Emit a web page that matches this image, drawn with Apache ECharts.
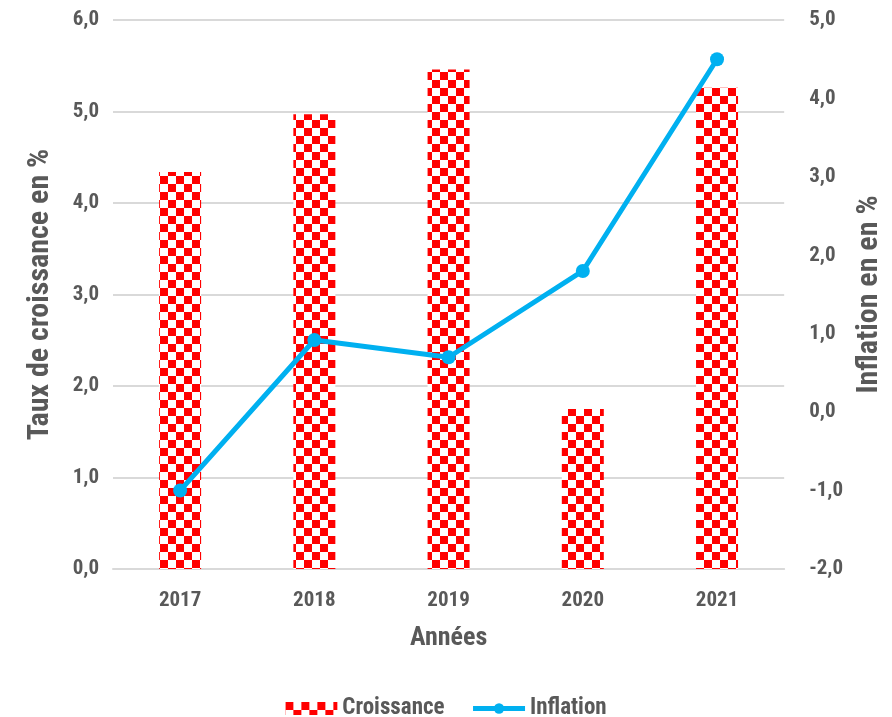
<!DOCTYPE html>
<html>
<head>
<meta charset="utf-8">
<script src="https://cdn.jsdelivr.net/npm/echarts@6/dist/echarts.min.js"></script>
<style>
html,body{margin:0;padding:0;background:#fff;overflow:hidden;}
#c{width:892px;height:717px;}
</style>
</head>
<body>
<div id="c"></div>
<script>
const categories = ['2017', '2018', '2019', '2020', '2021'];
const croissance = [4.34, 4.97, 5.46, 1.75, 5.26];
const inflation = [-1.0, 0.92, 0.70, 1.80, 4.50];
const leftTicks = {min: 0, max: 6, interval: 1};
const rightTicks = {min: -2, max: 5, interval: 1};

const FONT = "'Liberation Sans Narrow', 'Arial Narrow', 'Roboto Condensed', 'Liberation Sans', Arial, sans-serif";
const GREY = '#595959';

function checker() {
  const c = document.createElement('canvas');
  c.width = 16; c.height = 16;
  const g = c.getContext('2d');
  g.fillStyle = '#ffffff';
  g.fillRect(0, 0, 16, 16);
  g.fillStyle = '#ff0000';
  g.fillRect(0, 0, 8, 8);
  g.fillRect(8, 8, 8, 8);
  return c;
}
const pat = {image: checker(), repeat: 'repeat'};

const chart = echarts.init(document.getElementById('c'), null, {renderer: 'canvas'});
const fmt = v => v.toFixed(1).replace('.', ',');
chart.setOption({
  animation: false,
  textStyle: {fontFamily: FONT},
  grid: {left: 113, right: 92, top: 20, bottom: 148, containLabel: false},
  legend: {
    top: 692,
    left: 'center',
    itemGap: 26,
    itemWidth: 52,
    itemHeight: 13,
    textStyle: {fontFamily: FONT, fontSize: 23, fontWeight: 'bold', color: GREY},
    data: [
      {name: 'Croissance', icon: 'rect'},
      {name: 'Inflation', lineStyle: {width: 5, color: '#00b0f0'}}
    ]
  },
  xAxis: {
    type: 'category',
    data: categories,
    name: 'Années',
    nameLocation: 'middle',
    nameGap: 56,
    nameTextStyle: {fontFamily: FONT, fontSize: 26, fontWeight: 'bold', color: GREY},
    axisLine: {show: true, lineStyle: {color: '#d9d9d9', width: 2}},
    axisTick: {show: false},
    axisLabel: {fontFamily: FONT, fontSize: 21, fontWeight: 'bold', color: GREY, margin: 21}
  },
  yAxis: [
    {
      type: 'value',
      min: leftTicks.min, max: leftTicks.max, interval: leftTicks.interval,
      name: 'Taux de croissance en %',
      nameLocation: 'middle',
      nameRotate: 90,
      nameGap: 58,
      nameTextStyle: {fontFamily: FONT, fontSize: 30, fontWeight: 'bold', color: GREY},
      axisLine: {show: false},
      axisTick: {show: false},
      splitLine: {lineStyle: {color: '#d9d9d9', width: 2}},
      axisLabel: {fontFamily: FONT, fontSize: 21, fontWeight: 'bold', color: GREY, margin: 14, formatter: fmt}
    },
    {
      type: 'value',
      position: 'right',
      min: rightTicks.min, max: rightTicks.max, interval: rightTicks.interval,
      name: 'Inflation en en %',
      nameLocation: 'middle',
      nameRotate: 90,
      nameGap: 68,
      nameTextStyle: {fontFamily: FONT, fontSize: 30, fontWeight: 'bold', color: GREY},
      axisLine: {show: false},
      axisTick: {show: false},
      splitLine: {show: false},
      axisLabel: {fontFamily: FONT, fontSize: 21, fontWeight: 'bold', color: GREY, margin: 25, formatter: fmt}
    }
  ],
  series: [
    {
      name: 'Croissance',
      type: 'bar',
      yAxisIndex: 0,
      data: croissance,
      barWidth: 42,
      itemStyle: {color: pat}
    },
    {
      name: 'Inflation',
      type: 'line',
      yAxisIndex: 1,
      data: inflation,
      symbol: 'circle',
      symbolSize: 14,
      lineStyle: {color: '#00b0f0', width: 5},
      itemStyle: {color: '#00b0f0'}
    }
  ]
});
</script>
</body>
</html>
